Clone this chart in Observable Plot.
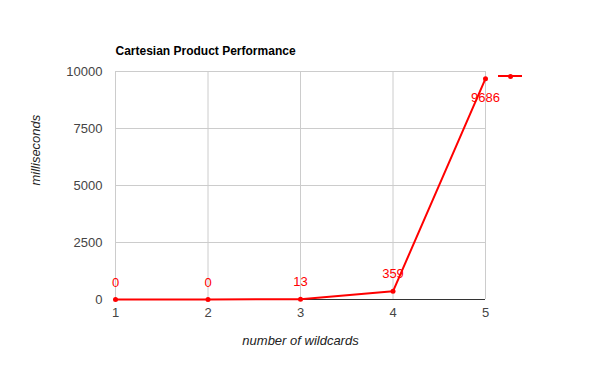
<!DOCTYPE html>
<html>
<head>
<meta charset="utf-8">
<script src="https://cdn.jsdelivr.net/npm/d3@7"></script>
<script src="https://cdn.jsdelivr.net/npm/@observablehq/plot@0.6"></script>
<style>
  html, body { margin: 0; padding: 0; background: #fff; }
  #wrap { position: relative; width: 600px; height: 371px; }
  #legend { position: absolute; left: 498px; top: 75px; width: 24px; height: 2px; background: #ff0000; }
  #legend::after { content: ""; position: absolute; left: 10px; top: -1.5px; width: 5px; height: 5px; border-radius: 2.5px; background: #ff0000; }
</style>
</head>
<body>
<div id="wrap"></div>
<script>
const title = "Cartesian Product Performance";
const xLabel = "number of wildcards";
const yLabel = "milliseconds";
const wildcards = [1, 2, 3, 4, 5];
const millis = [0, 0, 13, 359, 9686];
const yTicks = [0, 2500, 5000, 7500, 10000];

const data = wildcards.map((w, i) => ({w, ms: millis[i]}));
const red = "#ff0000";
const font = "Arial, 'Liberation Sans', sans-serif";

const chart = Plot.plot({
  width: 600,
  height: 371,
  marginLeft: 115,
  marginRight: 115,
  marginTop: 71,
  marginBottom: 72,
  style: {fontFamily: font, fontSize: "13px", color: "#444", background: "#fff"},
  x: {domain: [1, 5], label: null},
  y: {domain: [0, 10000], label: null},
  marks: [
    Plot.gridX(wildcards, {stroke: "#cccccc", strokeOpacity: 1}),
    Plot.gridY(yTicks, {stroke: "#cccccc", strokeOpacity: 1}),
    Plot.ruleY([0], {stroke: "#333333", strokeWidth: 1}),
    Plot.axisX(wildcards, {tickSize: 0, tickPadding: 8, fill: "#444", fontSize: 13, tickFormat: d => String(d), label: null}),
    Plot.axisY(yTicks, {tickSize: 0, tickPadding: 13, fill: "#444", fontSize: 13, tickFormat: d => String(d), label: null}),
    Plot.line(data, {x: "w", y: "ms", stroke: red, strokeWidth: 2}),
    Plot.dot(data, {x: "w", y: "ms", fill: red, r: 2.5}),
    Plot.text(data.filter(d => d.w < 5), {x: "w", y: "ms", text: d => String(d.ms), dy: -17, fill: red, fontSize: 13}),
    Plot.text(data.filter(d => d.w === 5), {x: "w", y: "ms", text: d => String(d.ms), dy: 19, fill: red, fontSize: 13}),
    Plot.text([title], {frameAnchor: "top-left", dy: -25, textAnchor: "start", fontWeight: "bold", fontSize: 12, fill: "#000"}),
    Plot.text([xLabel], {frameAnchor: "bottom", dy: 45, fontStyle: "italic", fontSize: 13, fill: "#222"}),
    Plot.text([yLabel], {frameAnchor: "left", dx: -80, rotate: -90, fontStyle: "italic", fontSize: 13, fill: "#222"})
  ]
});
const wrap = document.getElementById("wrap");
wrap.appendChild(chart);
const leg = document.createElement("div");
leg.id = "legend";
wrap.appendChild(leg);
</script>
</body>
</html>
